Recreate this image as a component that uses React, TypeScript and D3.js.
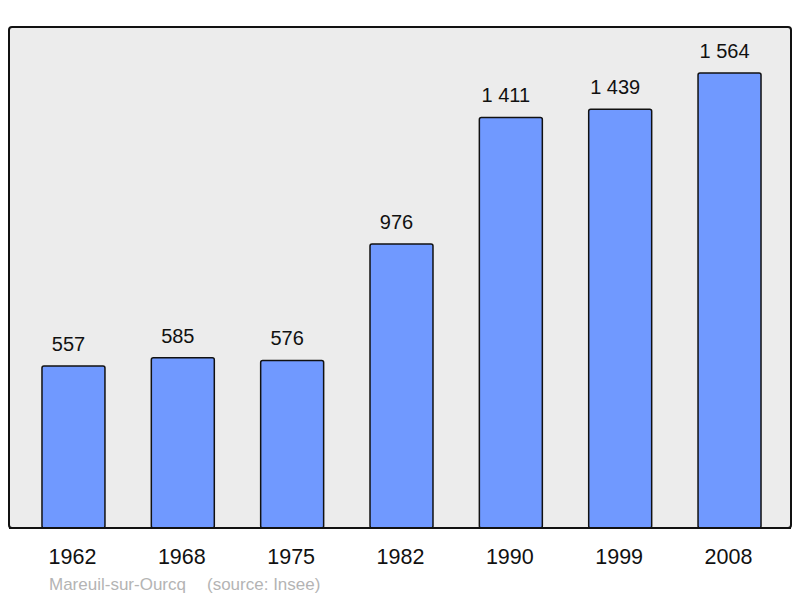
import React, { useEffect, useRef } from "react";
import * as d3 from "d3";

// population by census year
const years = ["1962", "1968", "1975", "1982", "1990", "1999", "2008"];
const population = [557, 585, 576, 976, 1411, 1439, 1564];
const commune = "Mareuil-sur-Ourcq";
const source = "(source: Insee)";

const width = 800;
const height = 598;
const panel = { left: 9, top: 27, right: 791, bottom: 528 };

const fmt = (v: number) => {
  const s = String(v);
  return s.length > 3 ? s.slice(0, s.length - 3) + " " + s.slice(-3) : s;
};

export default function App() {
  const ref = useRef<SVGSVGElement>(null);

  useEffect(() => {
    const svg = d3.select(ref.current);
    svg.selectAll("*").remove();

    const x = d3.scaleBand()
      .domain(years)
      .range([18.8, 784.2])
      .paddingInner(0.424)
      .paddingOuter(0.212);

    const y = d3.scaleLinear()
      .domain([0, 1722])
      .range([panel.bottom, panel.top]);

    // background panel
    svg.append("rect")
      .attr("x", panel.left)
      .attr("y", panel.top)
      .attr("width", panel.right - panel.left)
      .attr("height", panel.bottom - panel.top)
      .attr("rx", 3)
      .attr("fill", "#ececec")
      .attr("stroke", "#111")
      .attr("stroke-width", 2);

    const bars = svg.append("g");
    bars.selectAll("rect")
      .data(population)
      .join("rect")
      .attr("x", (d, i) => x(years[i])!)
      .attr("y", d => y(d))
      .attr("width", x.bandwidth())
      .attr("height", d => y(0) - y(d))
      .attr("rx", 2)
      .attr("fill", "#7099ff")
      .attr("stroke", "#111")
      .attr("stroke-width", 1.5);

    // redraw the bottom line over the bar strokes
    svg.append("line")
      .attr("x1", panel.left)
      .attr("x2", panel.right)
      .attr("y1", panel.bottom)
      .attr("y2", panel.bottom)
      .attr("stroke", "#111")
      .attr("stroke-width", 2);

    // value labels (sit a little left of the bar centre in the original)
    svg.append("g")
      .selectAll("text")
      .data(population)
      .join("text")
      .attr("x", (d, i) => x(years[i])! + x.bandwidth() / 2 - 5)
      .attr("y", d => y(d) - 15)
      .attr("text-anchor", "middle")
      .attr("font-family", "Liberation Sans, Arial, sans-serif")
      .attr("font-size", 20)
      .attr("fill", "#111")
      .text(d => fmt(d));

    // year labels
    svg.append("g")
      .selectAll("text")
      .data(years)
      .join("text")
      .attr("x", d => x(d)! + x.bandwidth() / 2 - 1)
      .attr("y", 564)
      .attr("text-anchor", "middle")
      .attr("font-family", "Liberation Sans, Arial, sans-serif")
      .attr("font-size", 21.5)
      .attr("fill", "#111")
      .text(d => d);

    svg.append("text")
      .attr("x", 49)
      .attr("y", 590)
      .attr("font-family", "Liberation Sans, Arial, sans-serif")
      .attr("font-size", 17)
      .attr("fill", "#b4b4b4")
      .text(commune);

    svg.append("text")
      .attr("x", 207)
      .attr("y", 590)
      .attr("font-family", "Liberation Sans, Arial, sans-serif")
      .attr("font-size", 17)
      .attr("fill", "#b4b4b4")
      .text(source);
  }, []);

  return (
    <svg
      ref={ref}
      width={width}
      height={height}
      style={{ position: "absolute", left: 0, top: 0, background: "#fff" }}
    />
  );
}
